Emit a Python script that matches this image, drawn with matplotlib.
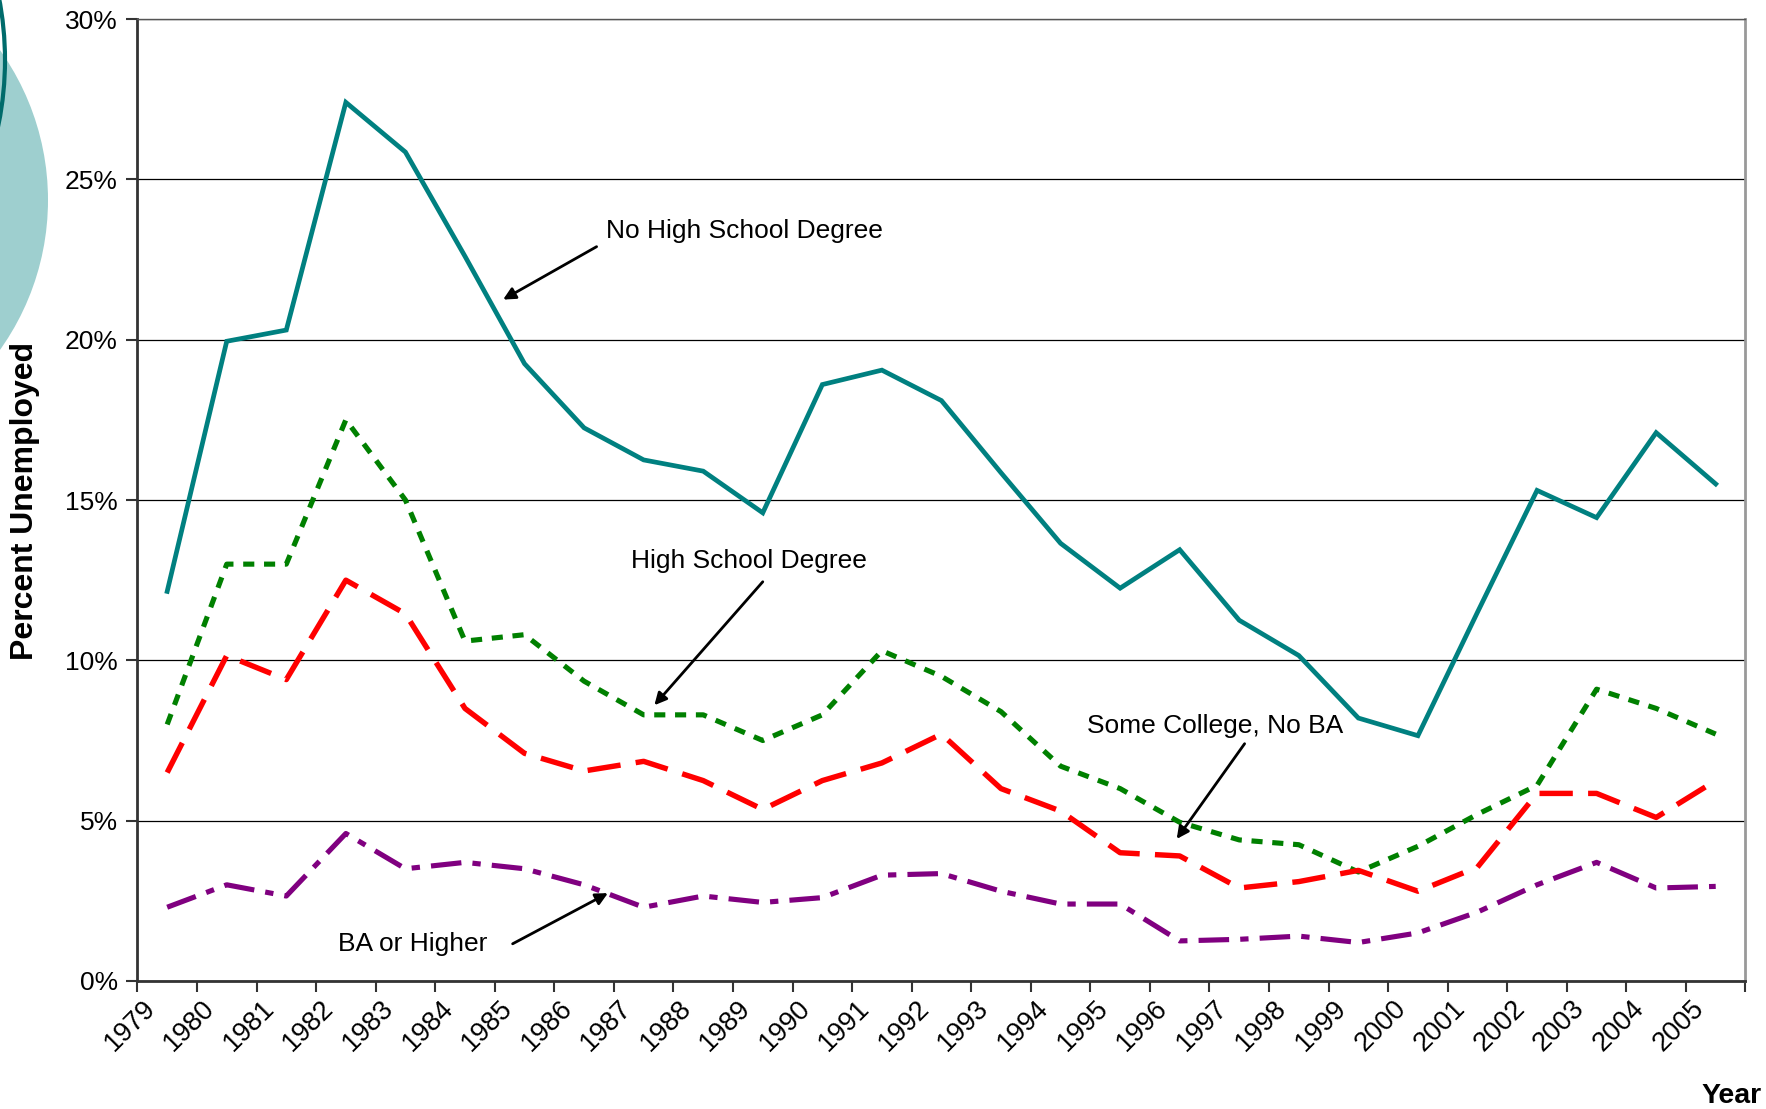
import matplotlib
matplotlib.use("Agg")
import matplotlib.pyplot as plt
from matplotlib.patches import Circle
from matplotlib.ticker import FixedLocator, FuncFormatter

plt.rcParams['font.family'] = ['Liberation Sans', 'DejaVu Sans']
plt.rcParams['lines.scale_dashes'] = False

# ------------------------------------------------------
# data (percent unemployed)
years = list(range(1979, 2006))
no_hs = [12.15, 19.95, 20.3, 27.4, 25.85, 22.6, 19.25, 17.25, 16.25, 15.9,
         14.6, 18.6, 19.05, 18.1, 15.85, 13.65, 12.25, 13.45, 11.25, 10.15,
         8.2, 7.65, 11.5, 15.3, 14.45, 17.1, 15.5]
hs_degree = [8.0, 13.0, 13.0, 17.5, 15.0, 10.6, 10.8, 9.35, 8.3, 8.3,
             7.5, 8.3, 10.3, 9.5, 8.4, 6.7, 6.0, 4.95, 4.4, 4.25,
             3.4, 4.2, 5.2, 6.1, 9.1, 8.5, 7.7]
some_college = [6.5, 10.15, 9.4, 12.5, 11.45, 8.5, 7.1, 6.55, 6.85, 6.25,
                5.35, 6.25, 6.8, 7.7, 6.0, 5.3, 4.0, 3.9, 2.9, 3.1,
                3.45, 2.8, 3.55, 5.85, 5.85, 5.1, 6.25]
ba_higher = [2.3, 3.0, 2.65, 4.6, 3.5, 3.7, 3.5, 3.0, 2.3, 2.65,
             2.45, 2.6, 3.3, 3.35, 2.8, 2.4, 2.4, 1.25, 1.3, 1.4,
             1.2, 1.5, 2.15, 3.0, 3.7, 2.9, 2.95]
y_ticks = [0, 5, 10, 15, 20, 25, 30]
# ------------------------------------------------------

W, H = 1766, 1109
fig = plt.figure(figsize=(W / 100, H / 100), dpi=100)

# slide decoration on the left edge
bg = fig.add_axes([0, 0, 1, 1], zorder=-1)
bg.set_xlim(0, W)
bg.set_ylim(H, 0)
bg.axis('off')
bg.add_patch(Circle((-210, 200), 258, facecolor='#9ecfcf', edgecolor='none'))
bg.add_patch(Circle((-320, 60), 325, facecolor='none', edgecolor='#006b6b', lw=3))

ax = fig.add_axes([137.4 / W, 1 - 981 / H, (1745.5 - 137.4) / W, (981 - 19) / H])
x = list(range(len(years)))

ax.plot(x, no_hs, color='#008080', lw=3.4, solid_joinstyle='miter')
ax.plot(x, hs_degree, color='#008000', lw=3.7, ls=(0, (8, 7)))
ax.plot(x, some_college, color='#ff0000', lw=3.9, ls=(0, (24, 11)))
ax.plot(x, ba_higher, color='#800080', lw=3.7, ls=(0, (22, 8, 6, 8)))

ax.set_xlim(-0.5, len(years) - 0.5)
ax.set_ylim(0, 30)

ax.yaxis.set_major_locator(FixedLocator(y_ticks))
ax.yaxis.set_major_formatter(FuncFormatter(lambda v, p: '%d%%' % v))
ax.grid(axis='y', color='black', lw=0.9)
ax.set_axisbelow(True)

ax.set_xticks([i - 0.5 for i in range(len(years) + 1)])
ax.set_xticklabels([])
ax.tick_params(axis='both', direction='out', length=8, width=1.5, color='#333333',
               labelsize=19, pad=6)
for i, yr in enumerate(years):
    ax.text(i - 0.42, -0.45, str(yr), rotation=45, rotation_mode='anchor',
            ha='right', va='top', fontsize=19.5)

for s in ['left', 'bottom']:
    ax.spines[s].set_color('#333333')
    ax.spines[s].set_linewidth(2)
ax.spines['right'].set_color('#999999')
ax.spines['right'].set_linewidth(2)
ax.spines['top'].set_color('#555555')
ax.spines['top'].set_linewidth(1)

# labels with arrows
notes = [
    ("No High School Degree", (7.37, 23.4), (7.21, 22.9), (5.64, 21.25)),
    ("High School Degree", (7.78, 13.1), (10.0, 12.45), (8.18, 8.6)),
    ("Some College, No BA", (15.44, 7.94), (18.09, 7.4), (16.95, 4.43)),
    ("BA or Higher", (2.87, 1.16), (5.8, 1.16), (7.4, 2.74)),
]
for label, tpos, tail, head in notes:
    ax.text(tpos[0], tpos[1], label, fontsize=19, ha='left', va='center')
    ax.annotate('', xy=head, xytext=tail,
                arrowprops=dict(arrowstyle='-|>', color='black', lw=2,
                                mutation_scale=18, shrinkA=0, shrinkB=0))

fig.text(25 / W, 1 - 501 / H, 'Percent Unemployed', rotation=90, fontsize=23,
         fontweight='bold', ha='center', va='center')
fig.text(1762 / W, 1 - 1096 / H, 'Year', fontsize=20.5, fontweight='bold',
         ha='right', va='center')

fig.savefig('out.png', dpi=100)
